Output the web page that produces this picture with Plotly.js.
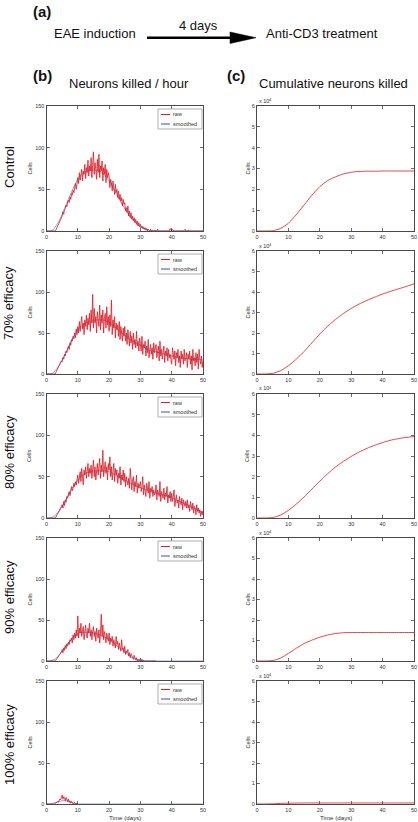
<!DOCTYPE html>
<html><head><meta charset="utf-8">
<script src="https://cdn.plot.ly/plotly-3.0.1.min.js"></script>
<style>html,body{margin:0;padding:0;background:#fff}</style>
</head><body><div id="chart" style="width:418px;height:822px"></div>
<script>
// ---------- DATA ----------
const rowLabels = ["Control", "70% efficacy", "80% efficacy", "90% efficacy", "100% efficacy"];
const rawStepDays = 0.25;     // raw series sampled every quarter day, starting at day 0
const smoothStepDays = 1;     // smoothed series sampled daily, starting at day 0
const cumDays = [0,2.5,5,7.5,10,12.5,15,17.5,20,22.5,25,27.5,30,32.5,35,37.5,40,42.5,45,47.5,50];
const xTicks = [0,10,20,30,40,50];
const yTicksRate = [0,50,100,150];
const yTicksCum = [0,1,2,3,4,5,6];   // in units of 10^4 cells

// Neurons killed / hour (raw), one row = 5 days
const raw_control = [
 0,0,0,0,0,0,0,0,0,0,0,0,1,3,5,7,9,11,12,15,
 18,23,20,26,27,31,29,35,37,34,41,38,45,43,49,46,52,57,50,58,
 64,57,70,61,66,74,60,72,68,80,63,76,70,85,66,78,72,88,64,80,
 95,68,82,74,62,86,70,92,64,78,72,84,60,76,68,80,58,74,64,70,
 66,52,62,58,48,60,54,44,56,46,50,40,48,38,44,36,40,30,38,32,
 34,24,28,22,30,18,24,16,22,14,18,12,16,10,14,8,12,6,10,5,
 8,4,6,3,5,2,4,1,3,0,2,1,0,2,0,1,0,0,1,0,
 0,0,2,0,0,0,0,0,0,0,0,0,0,0,0,0,0,0,3,0,
 0,2,0,0,0,0,0,0,0,0,0,0,0,0,0,0,1,2,0,0,
 0,1,0,0,0,0,0,0,0,0,0,0,0,0,0,0,0,0,0,0,
 0];
const raw_70 = [
 0,0,0,0,0,0,0,0,0,0,0,0,2,4,6,8,9,12,14,16,
 15,20,18,24,22,28,26,31,34,30,38,35,42,40,46,43,50,44,55,48,
 58,50,64,52,60,70,55,62,48,66,58,72,54,68,60,74,52,78,62,97,
 56,80,62,70,50,76,66,58,84,54,72,62,78,50,68,74,56,82,60,70,
 52,72,58,90,48,66,56,70,44,62,54,60,46,64,42,58,50,40,56,46,
 58,40,50,36,54,44,34,52,38,46,30,50,36,42,32,52,34,40,28,44,
 38,28,46,24,36,32,40,22,34,26,42,20,30,36,24,32,18,38,26,30,
 36,20,28,34,16,40,22,30,18,26,34,14,28,22,32,16,30,20,24,18,
 12,32,24,18,28,10,26,20,30,14,22,8,28,18,24,12,30,16,20,26,
 8,24,18,28,12,22,5,30,16,20,10,26,14,24,6,30,18,12,22,8,
 16];
const raw_80 = [
 0,0,0,0,0,0,0,0,0,0,0,0,1,3,4,6,8,10,11,13,
 16,12,20,15,22,19,26,24,28,32,27,34,38,33,36,42,38,44,40,46,
 52,42,48,56,44,60,50,40,58,52,62,48,56,66,50,60,54,64,48,58,
 70,50,62,46,58,66,52,60,72,48,64,56,82,50,60,68,54,62,46,66,
 58,74,50,62,46,56,66,44,60,52,58,42,54,48,62,40,52,46,58,44,
 54,38,50,44,40,48,36,60,42,34,46,50,32,44,38,52,30,42,36,40,
 44,32,38,50,28,40,34,26,42,36,30,44,24,36,32,38,26,34,28,30,
 40,22,34,30,26,44,20,32,28,24,36,22,30,26,38,18,28,24,32,20,
 30,20,26,34,14,24,28,18,22,12,26,20,16,24,10,22,18,14,20,12,
 22,12,16,8,20,14,10,18,6,14,12,4,16,8,12,6,10,2,8,4,
 9];
const raw_90 = [
 0,0,0,0,0,0,0,0,0,0,0,0,1,2,4,5,7,8,9,11,
 14,10,16,13,19,15,21,18,23,20,26,24,28,22,32,26,34,28,38,30,
 55,28,40,34,46,30,36,42,26,38,44,32,28,40,34,46,30,38,26,36,
 42,30,36,24,40,32,28,38,22,34,57,30,44,26,36,30,22,34,28,24,
 34,20,28,24,30,18,26,22,16,30,20,24,14,22,18,12,26,14,16,10,
 18,8,12,10,14,6,10,4,9,6,5,2,7,3,1,4,0,2,0,1,
 3,0,2,0,1,0,0,0,0,0,0,0,0,0,0,0,0,0,0,0,
 0];   // stays at 0 afterwards
const raw_100 = [
 0,0,0,0,0,0,0,0,0,0,0,0,1,2,3,2,4,6,5,8,
 11,6,9,7,4,8,5,3,6,2,4,1,3,2,0,1,2,0,1,0,
 0];   // stays at 0 afterwards

// Neurons killed / hour (smoothed, daily)
const smooth_control = [0,0,1,6,12,20,29,38,47,55,
 62,67,70,72,73,73,73,72,69,65,
 60,54,47,40,33,27,21,16,12,8,
 5,3,2,1,0,0,0,0,0,0,
 0,0,0,0,0,0,0,0,0,0,
 0];
const smooth_70 = [0,0,1,5,10,17,25,33,41,48,
 54,58,61,63,64,65,66,66,66,65,
 63,60,57,53,50,47,44,41,39,37,
 35,33,31,29,28,27,26,25,24,23,
 22,21,20,20,19,19,18,18,18,18,
 17];
const smooth_80 = [0,0,1,4,8,14,21,28,35,41,
 46,50,53,55,56,57,57,57,57,57,
 56,54,52,50,48,46,44,42,40,38,
 37,35,34,32,31,30,29,28,27,26,
 25,23,21,19,17,16,14,12,10,8,
 7];
const smooth_90 = [0,0,1,3,7,12,17,22,27,31,
 33,35,35,35,35,34,33,32,30,28,
 26,23,20,17,14,11,8,5,3,2,
 1,0,0,0,0,0,0,0,0,0,
 0,0,0,0,0,0,0,0,0,0,
 0];
const smooth_100 = [0,0,1,2,3,4,4,3,2,1,
 0,0,0,0,0,0,0,0,0,0,
 0,0,0,0,0,0,0,0,0,0,
 0,0,0,0,0,0,0,0,0,0,
 0,0,0,0,0,0,0,0,0,0,
 0];

// Cumulative neurons killed (x 10^4 cells), at cumDays
const cum_control = [0,0,0.01,0.12,0.37,0.78,1.25,1.72,2.13,2.42,2.6,2.74,2.82,2.86,2.87,2.87,2.88,2.88,2.88,2.88,2.88];
const cum_70 = [0,0,0.03,0.16,0.4,0.72,1.1,1.52,1.95,2.33,2.66,2.95,3.2,3.41,3.59,3.75,3.9,4.03,4.15,4.27,4.4];
const cum_80 = [0,0,0.02,0.14,0.37,0.67,1.02,1.4,1.78,2.14,2.47,2.74,2.98,3.19,3.37,3.52,3.65,3.76,3.84,3.9,3.94];
const cum_90 = [0,0,0.02,0.14,0.37,0.62,0.85,1.02,1.16,1.27,1.34,1.38,1.39,1.39,1.39,1.39,1.39,1.39,1.39,1.39,1.39];
const cum_100 = [0,0,0.01,0.03,0.04,0.045,0.05,0.05,0.05,0.05,0.05,0.05,0.05,0.05,0.05,0.05,0.05,0.05,0.05,0.05,0.05];

// ---------- LAYOUT GEOMETRY (pixels) ----------
const W = 418, H = 822;
const leftXpx = [46.5, 203], rightXpx = [257, 414];
const rowsPx = [[106,231],[251,374],[394,518],[538,661],[681,804]];
const rowLabelY = [167, 303, 452, 597, 745];
const px = v => v / W;
const py = v => 1 - v / H;

const FONT = 'Liberation Sans, Arial, sans-serif';
const RED = 'rgb(232,28,34)';
const BLUE = 'rgb(60,80,175)';
const CUMRED = 'rgb(222,50,50)';

const panels = [
  {raw: raw_control, smooth: smooth_control, cum: cum_control},
  {raw: raw_70, smooth: smooth_70, cum: cum_70},
  {raw: raw_80, smooth: smooth_80, cum: cum_80},
  {raw: raw_90, smooth: smooth_90, cum: cum_90},
  {raw: raw_100, smooth: smooth_100, cum: cum_100}
];

const traces = [];
const layout = {
  width: W, height: H,
  margin: {l:0, r:0, t:0, b:0},
  paper_bgcolor: '#fff', plot_bgcolor: '#fff',
  showlegend: false,
  font: {family: FONT, color: '#000'},
  shapes: [], annotations: []
};

const axBase = () => ({
  showgrid:false, zeroline:false, showline:true, linecolor:'#4a4a4a', linewidth:1,
  mirror:'ticks', ticks:'inside', ticklen:3, tickwidth:0.8, tickcolor:'#4a4a4a',
  tickfont:{family:FONT, size:5.5, color:'#333'}, fixedrange:true
});
const axName = (p, k) => p + (k === 1 ? '' : k);
const axKey = (p, k) => p + 'axis' + (k === 1 ? '' : k);
const smallFont = {family:FONT, size:5.5, color:'#333'};

panels.forEach((p, i) => {
  const kl = i + 1, kr = i + 6;
  const [top, bot] = rowsPx[i];
  layout[axKey('x', kl)] = Object.assign(axBase(), {domain:[px(leftXpx[0]), px(leftXpx[1])], range:[0,50], tickvals:xTicks, anchor:axName('y', kl)});
  layout[axKey('y', kl)] = Object.assign(axBase(), {domain:[py(bot), py(top)], range:[0,150], tickvals:yTicksRate, anchor:axName('x', kl)});
  layout[axKey('x', kr)] = Object.assign(axBase(), {domain:[px(rightXpx[0]), px(rightXpx[1])], range:[0,50], tickvals:xTicks, anchor:axName('y', kr)});
  layout[axKey('y', kr)] = Object.assign(axBase(), {domain:[py(bot), py(top)], range:[0,6], tickvals:yTicksCum, anchor:axName('x', kr)});

  traces.push({x: p.raw.map((_, j) => j * rawStepDays), y: p.raw, xaxis: axName('x', kl), yaxis: axName('y', kl),
    mode:'lines', line:{color:RED, width:0.85}, hoverinfo:'skip', name:'raw'});
  traces.push({x: p.smooth.map((_, j) => j * smoothStepDays), y: p.smooth, xaxis: axName('x', kl), yaxis: axName('y', kl),
    mode:'lines', line:{color:BLUE, width:0.9, shape:'spline', smoothing:0.6}, opacity:0.6, hoverinfo:'skip', name:'smoothed'});
  traces.push({x: cumDays, y: p.cum, xaxis: axName('x', kr), yaxis: axName('y', kr),
    mode:'lines', line:{color:CUMRED, width:0.9, shape:'spline', smoothing:0.5}, hoverinfo:'skip', name:'cumulative'});

  const midY = (top + bot) / 2;
  [29, 247].forEach(xx => layout.annotations.push({text:'Cells', x:px(xx), y:py(midY), xref:'paper', yref:'paper',
    showarrow:false, textangle:-90, font:smallFont, xanchor:'center', yanchor:'middle'}));
  layout.annotations.push({text:'x 10', x:px(257), y:py(top - 0.5), xref:'paper', yref:'paper', showarrow:false,
    xanchor:'left', yanchor:'bottom', font:smallFont});
  layout.annotations.push({text:'4', x:px(266.8), y:py(top - 6.5), xref:'paper', yref:'paper', showarrow:false,
    xanchor:'left', yanchor:'middle', font:{family:FONT, size:4, color:'#333'}});
  layout.annotations.push({text:rowLabels[i], x:px(9), y:py(rowLabelY[i]), xref:'paper', yref:'paper', showarrow:false,
    textangle:-90, xanchor:'center', yanchor:'middle', font:{family:FONT, size:13, color:'#111'}});

  layout.shapes.push({type:'rect', xref:'paper', yref:'paper', x0:px(158), x1:px(202), y0:py(top+23), y1:py(top+3),
    line:{color:'#9a9a9a', width:0.8}, fillcolor:'#fff', layer:'above'});
  layout.shapes.push({type:'line', xref:'paper', yref:'paper', x0:px(161), x1:px(170), y0:py(top+8.5), y1:py(top+8.5),
    line:{color:RED, width:1}, layer:'above'});
  layout.shapes.push({type:'line', xref:'paper', yref:'paper', x0:px(161), x1:px(170), y0:py(top+18), y1:py(top+18),
    line:{color:BLUE, width:1}, layer:'above'});
  layout.annotations.push({text:'raw', x:px(171), y:py(top+8.5), xref:'paper', yref:'paper', showarrow:false,
    xanchor:'left', yanchor:'middle', font:smallFont});
  layout.annotations.push({text:'smoothed', x:px(171), y:py(top+18), xref:'paper', yref:'paper', showarrow:false,
    xanchor:'left', yanchor:'middle', font:smallFont});

  if (i === panels.length - 1) {
    [124.5, 335.5].forEach(xx => layout.annotations.push({text:'Time (days)', x:px(xx), y:py(817), xref:'paper', yref:'paper',
      showarrow:false, xanchor:'center', yanchor:'middle', font:{family:FONT, size:6.2, color:'#333'}}));
  }
});

const header = [
  {t:'<b>(a)</b>', x:42, y:11, s:15},
  {t:'EAE induction', x:94.5, y:33, s:13},
  {t:'4 days', x:198, y:25, s:13},
  {t:'Anti-CD3 treatment', x:322, y:33, s:13},
  {t:'<b>(b)</b>', x:42, y:75, s:15},
  {t:'Neurons killed / hour', x:129, y:84, s:13},
  {t:'<b>(c)</b>', x:236, y:75, s:15},
  {t:'Cumulative neurons killed', x:333, y:84, s:13}
];
header.forEach(h => layout.annotations.push({text:h.t, x:px(h.x), y:py(h.y), xref:'paper', yref:'paper', showarrow:false,
  xanchor:'center', yanchor:'middle', font:{family:FONT, size:h.s, color:'#111'}}));

layout.shapes.push({type:'line', xref:'paper', yref:'paper', x0:px(147), x1:px(234), y0:py(37.7), y1:py(37.7), line:{color:'#000', width:2.5}});
layout.shapes.push({type:'path', xref:'paper', yref:'paper',
  path:`M ${px(230)},${py(32)} L ${px(256)},${py(37.7)} L ${px(230)},${py(43.5)} Z`, fillcolor:'#000', line:{color:'#000', width:0.5}});

Plotly.newPlot('chart', traces, layout, {staticPlot:true, displayModeBar:false});
</script>
</body></html>
